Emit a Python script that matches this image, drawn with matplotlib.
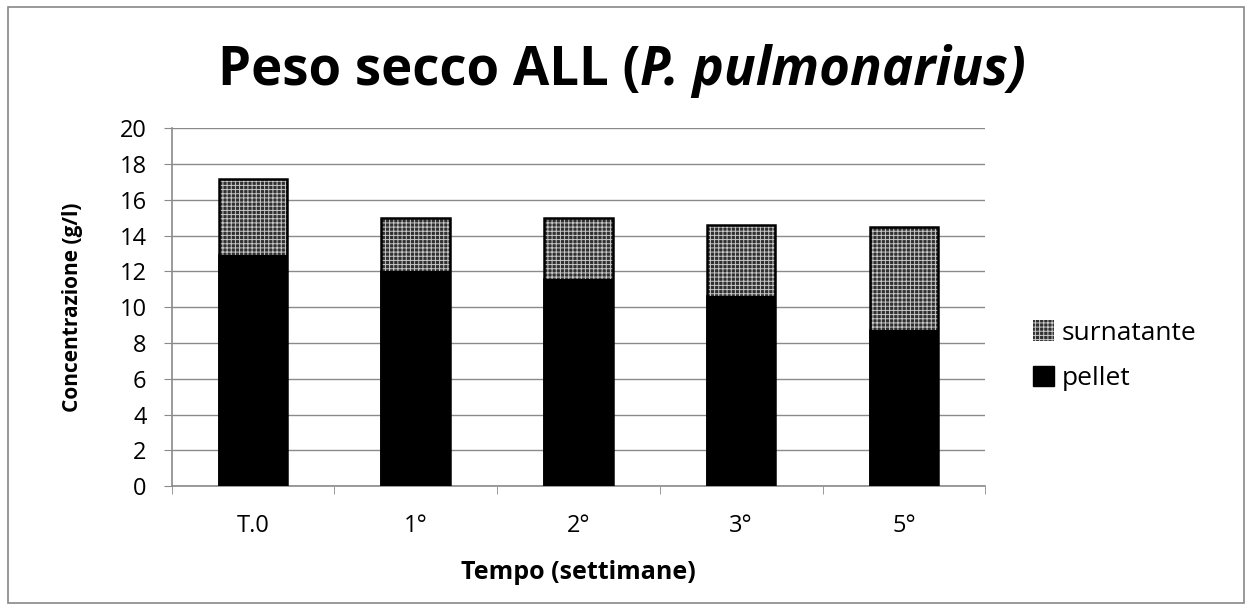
import matplotlib
matplotlib.use("Agg")
import matplotlib.pyplot as plt
from matplotlib.patches import Patch, Rectangle
import numpy as np

# data
categories = ["T.0", "1°", "2°", "3°", "5°"]
pellet = [12.9, 12.0, 11.55, 10.6, 8.7]
surnatante = [4.25, 3.0, 3.45, 4.0, 5.75]

plt.rcParams['font.family'] = ['Open Sans', 'DejaVu Sans']
plt.rcParams['hatch.linewidth'] = 0.7

fig = plt.figure(figsize=(12.52, 6.10), dpi=100)
fig.patches.append(Rectangle((0.006, 0.012), 0.988, 0.976, transform=fig.transFigure,
                             fill=False, edgecolor="#888888", linewidth=1.2))

ax = fig.add_axes([0.137, 0.203, 0.650, 0.587])

x = np.arange(len(categories))
width = 0.42
hatch_face = "#303030"
hatch_line = "#c8c8c8"
ax.bar(x, pellet, width, color="black", edgecolor="black", linewidth=1.2, zorder=3)
ax.bar(x, surnatante, width, bottom=pellet, color=hatch_face, edgecolor=hatch_line,
       hatch="++++", linewidth=0, zorder=3)
totals = np.array(pellet) + np.array(surnatante)
ax.bar(x, totals, width, fill=False, edgecolor="black", linewidth=1.8, zorder=4)

ax.set_xlim(-0.5, len(categories) - 0.5)
ax.set_ylim(0, 20)
ax.set_yticks(range(0, 21, 2))
ax.grid(axis="y", color="#8a8a8a", linewidth=1.0, zorder=0)
ax.set_axisbelow(True)

ax.set_xticks(x)
ax.set_xticklabels(categories, fontsize=17)
ax.set_xticks(np.arange(-0.5, len(categories), 1.0), minor=True)
ax.tick_params(axis="x", which="major", length=0, pad=20)
ax.tick_params(axis="x", which="minor", length=6, color="#8a8a8a")
ax.tick_params(axis="y", labelsize=17, length=6, color="#8a8a8a", pad=12)

for s in ["top", "right"]:
    ax.spines[s].set_visible(False)
for s in ["left", "bottom"]:
    ax.spines[s].set_color("#8a8a8a")
    ax.spines[s].set_linewidth(1.2)

ax.set_ylabel("Concentrazione (g/l)", fontsize=15, fontweight="bold", labelpad=26)
ax.set_xlabel("Tempo (settimane)", fontsize=18, fontweight="bold", labelpad=16)

# title: normal part + italic species name
t1 = fig.text(0.174, 0.86, "Peso secco ALL (", fontsize=38, fontweight="bold", va="baseline")
fig.canvas.draw()
ax.annotate("P. pulmonarius)", xy=(1, 0), xycoords=t1, fontsize=38, fontweight="bold",
            fontstyle="italic", va="bottom", ha="left")

handles = [Patch(facecolor=hatch_face, edgecolor=hatch_line, hatch="++++", linewidth=0),
           Patch(facecolor="black", edgecolor="black")]
fig.legend(handles, ["surnatante", "pellet"], loc="center left",
           bbox_to_anchor=(0.806, 0.417), frameon=False, fontsize=19,
           handlelength=0.8, handleheight=0.8, handletextpad=0.3, labelspacing=0.75)

fig.savefig("out.png", dpi=100)
